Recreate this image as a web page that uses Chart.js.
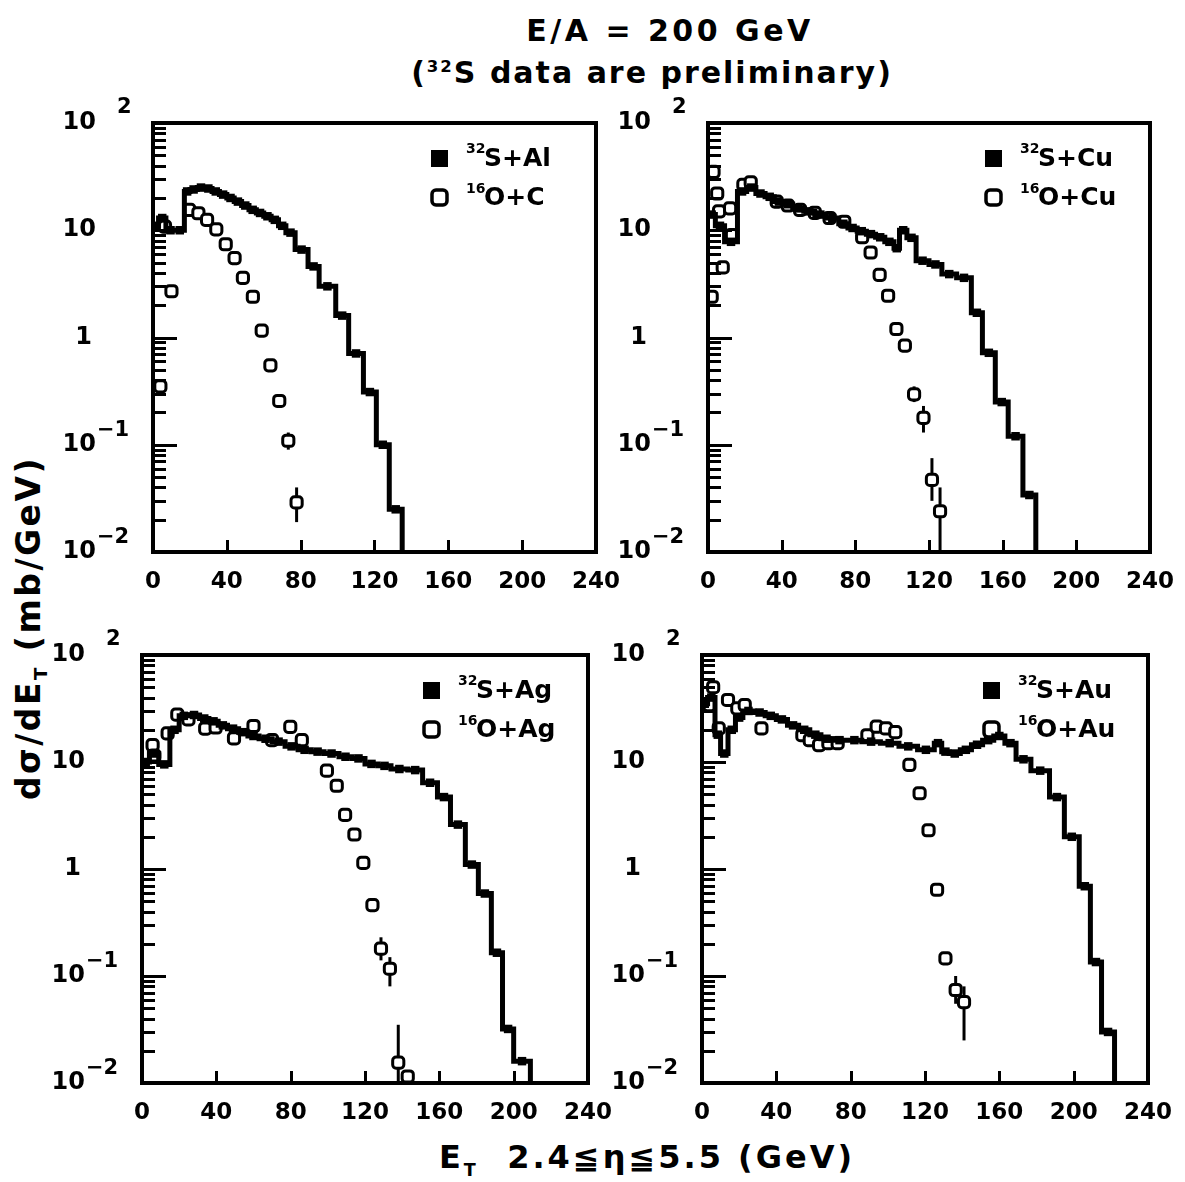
<!DOCTYPE html>
<html>
<head>
<meta charset="utf-8">
<script src="https://cdn.jsdelivr.net/npm/chart.js@4"></script>
<style>
  body { margin: 0; background: #fff; }
  #page { position: relative; width: 1185px; height: 1182px; overflow: hidden; background: #fff;
          font-family: "DejaVu Sans", sans-serif; font-weight: bold; color: #000; }
  #page canvas { position: absolute; }
  .t { position: absolute; white-space: nowrap; transform: translate(-50%, -50%); }
  .t sup { font-size: 55%; }
  .t sub { font-size: 55%; }
  #title1 { left: 670px; top: 30px; font-size: 30px; letter-spacing: 3.5px; }
  #title2 { left: 652px; top: 72px; font-size: 30px; letter-spacing: 2px; }
  #xtitle { left: 647px; top: 1159px; font-size: 32px; letter-spacing: 3px; }
  #ytitle { left: 30px; top: 628px; font-size: 33px; letter-spacing: 2.5px;
            transform: translate(-50%, -50%) rotate(-90deg); }
</style>
</head>
<body>
<div id="page">
  <div class="t" id="title1">E/A = 200 GeV</div>
  <div class="t" id="title2">(<sup>32</sup>S data are preliminary)</div>
  <div class="t" id="xtitle">E<sub>T</sub>&nbsp; 2.4≦η≦5.5 (GeV)</div>
  <div class="t" id="ytitle">dσ/dE<sub>T</sub> (mb/GeV)</div>
  <canvas id="c1"></canvas>
  <canvas id="c2"></canvas>
  <canvas id="c3"></canvas>
  <canvas id="c4"></canvas>
</div>
<script>
const xTicks = [0, 40, 80, 120, 160, 200, 240];
const yDecades = [-2, -1, 0, 1, 2];

// 32S+Al histogram (bin edges, values) and 16O+C points
const sAlEdges = [0, 3, 7, 12, 17, 20, 24, 28, 32, 36, 40, 44, 48, 52, 56, 60, 64, 68, 72, 77, 84, 90, 99, 106, 114, 121, 128, 135];
const sAlVals = [11, 13, 10, 10, 23, 24, 25, 24.5, 23, 21.5, 20, 18.5, 17, 15.5, 14.5, 13.5, 12.5, 11, 9.5, 6.6, 4.6, 3.0, 1.6, 0.71, 0.31, 0.1, 0.025];
const oCE = [4, 6.5, 10, 19.6, 24.6, 29.3, 34.3, 39.4, 44.2, 48.7, 54.1, 58.9, 63.6, 68.4, 73.3, 77.8];
const oCVals = [0.35, 10.8, 2.7, 15.5, 14.4, 12.5, 10.2, 7.4, 5.5, 3.6, 2.4, 1.16, 0.55, 0.256, 0.109, 0.029];
const oCErrE = [73.3, 77.8];
const oCErrLo = [0.09, 0.019];
const oCErrHi = [0.13, 0.04];

// 32S+Cu and 16O+Cu
const sCuEdges = [0, 4, 9, 16, 21, 26, 31, 36, 41, 46, 52, 58, 64, 71, 76, 81, 86, 91, 96, 101, 104, 108, 113, 120, 127, 135, 143, 149, 156, 163, 171, 178];
const sCuVals = [14, 11, 7.8, 23, 25, 22, 20.5, 18.5, 17.5, 16, 15, 14, 13, 11.5, 10.5, 9.8, 9.2, 8.6, 7.8, 6.8, 10, 8.5, 5.2, 4.8, 3.9, 3.6, 1.7, 0.72, 0.25, 0.12, 0.034];
const oCuE = [2, 3, 5, 6, 8, 12, 13, 19.2, 23.2, 37.3, 43.4, 50, 58, 66, 74, 83.7, 88.3, 93.2, 97.8, 102.3, 106.9, 111.9, 117, 121.6, 126];
const oCuVals = [2.4, 35, 22, 15, 4.5, 16, 9, 26.5, 28, 18.5, 17, 15.5, 14.5, 13, 12, 8.6, 6.2, 3.84, 2.45, 1.2, 0.84, 0.295, 0.178, 0.047, 0.024];
const oCuErrE = [111.9, 117, 121.6, 126];
const oCuErrLo = [0.25, 0.13, 0.03, 0.009];
const oCuErrHi = [0.35, 0.23, 0.075, 0.04];

// 32S+Ag and 16O+Ag
const sAgEdges = [0, 4, 9, 15, 20, 25, 31, 36, 41, 46, 52, 57, 63, 70, 77, 84, 91, 98, 106, 113, 120, 127, 134, 143, 151, 159, 166, 174, 181, 188, 194, 200, 209];
const sAgVals = [10, 12, 9.5, 20, 27, 27.5, 25.5, 24, 22, 20.5, 19, 17.5, 16.5, 15.5, 14, 13, 12.5, 12, 11.2, 10.8, 9.6, 9.2, 8.6, 8.4, 6.4, 4.7, 2.6, 1.1, 0.59, 0.165, 0.032, 0.016];
const oAgE = [5.7, 6.6, 13.8, 19, 25, 34, 39.6, 49.5, 60, 70, 79.8, 86, 99.5, 104.8, 109.3, 114.3, 119.1, 124, 128.6, 133.4, 137.9, 143];
const oAgVals = [14.4, 11.5, 18.5, 27.7, 25, 20.5, 21, 16.6, 21.7, 16, 21.3, 16, 8.3, 6.0, 3.2, 2.1, 1.14, 0.46, 0.18, 0.117, 0.0155, 0.0115];
const oAgErrE = [128.6, 133.4, 137.9];
const oAgErrLo = [0.14, 0.08, 0.009];
const oAgErrHi = [0.23, 0.15, 0.035];

// 32S+Au and 16O+Au
const sAuEdges = [0, 3, 7, 10, 14, 18, 22, 28, 34, 40, 46, 52, 58, 64, 70, 78, 86, 96, 106, 116, 125, 129, 133, 139, 145, 151, 157, 163, 169, 177, 187, 195, 203, 209, 215, 222];
const sAuVals = [35, 40, 18, 12, 20, 26, 30, 29, 27, 25, 22, 20, 18, 16.5, 16, 16, 15.5, 15, 14, 13, 15, 12.5, 12, 13, 14.5, 16, 17.5, 15, 10.6, 8.3, 4.7, 2.0, 0.69, 0.135, 0.03];
const oAuE = [4, 6, 9, 14, 19, 23, 32, 54, 58, 63, 68, 73, 89, 94, 99, 104, 111.6, 117.1, 121.9, 126.5, 131, 136.5, 141];
const oAuVals = [34, 50, 20.6, 38, 31.7, 34, 20.6, 17.8, 16, 14.4, 15, 15, 17.8, 21.4, 20.6, 19, 9.4, 5.1, 2.3, 0.64, 0.146, 0.074, 0.057];
const oAuErrE = [136.5, 141];
const oAuErrLo = [0.055, 0.025];
const oAuErrHi = [0.1, 0.08];

const FONT = '"DejaVu Sans", sans-serif';

const panels = [
  { id: 'c1', box: [153, 123, 598, 552], sEdges: sAlEdges, sVals: sAlVals, oE: oCE, oVals: oCVals,
    errE: oCErrE, errLo: oCErrLo, errHi: oCErrHi, sName: 'S+Al', oName: 'O+C' },
  { id: 'c2', box: [708, 123, 1152, 552], sEdges: sCuEdges, sVals: sCuVals, oE: oCuE, oVals: oCuVals,
    errE: oCuErrE, errLo: oCuErrLo, errHi: oCuErrHi, sName: 'S+Cu', oName: 'O+Cu' },
  { id: 'c3', box: [142, 655, 590, 1083], sEdges: sAgEdges, sVals: sAgVals, oE: oAgE, oVals: oAgVals,
    errE: oAgErrE, errLo: oAgErrLo, errHi: oAgErrHi, sName: 'S+Ag', oName: 'O+Ag' },
  { id: 'c4', box: [702, 655, 1150, 1083], sEdges: sAuEdges, sVals: sAuVals, oE: oAuE, oVals: oAuVals,
    errE: oAuErrE, errLo: oAuErrLo, errHi: oAuErrHi, sName: 'S+Au', oName: 'O+Au' }
];

const PAD_L = 110, PAD_T = 45, PAD_R = 30, XAXIS_H = 50;

function roundRect(ctx, x, y, w, h, r) {
  ctx.beginPath();
  ctx.moveTo(x + r, y);
  ctx.arcTo(x + w, y, x + w, y + h, r);
  ctx.arcTo(x + w, y + h, x, y + h, r);
  ctx.arcTo(x, y + h, x, y, r);
  ctx.arcTo(x, y, x + w, y, r);
  ctx.closePath();
}

function makeDecor(p) {
  return {
    id: 'decor_' + p.id,
    beforeDatasetsDraw(chart) {
      const { ctx } = chart;
      const xs = chart.scales.x, ys = chart.scales.y;
      ctx.save();
      ctx.strokeStyle = '#000';
      ctx.lineWidth = 3;
      p.errE.forEach((e, i) => {
        const px = xs.getPixelForValue(e);
        const y1 = ys.getPixelForValue(Math.max(p.errLo[i], 0.01));
        const y2 = ys.getPixelForValue(p.errHi[i]);
        ctx.beginPath(); ctx.moveTo(px, y1); ctx.lineTo(px, y2); ctx.stroke();
      });
      ctx.restore();
    },
    afterDraw(chart) {
      const { ctx, chartArea: a } = chart;
      const xs = chart.scales.x, ys = chart.scales.y;
      ctx.save();
      ctx.strokeStyle = '#000';
      ctx.fillStyle = '#000';
      // log minor / major ticks on the left axis
      ctx.lineWidth = 3;
      for (let e = -2; e < 2; e++) {
        for (let m = 1; m < 10; m++) {
          const py = Math.round(ys.getPixelForValue(m * Math.pow(10, e))) + 0.5;
          const len = m === 1 ? 24 : 13;
          ctx.beginPath(); ctx.moveTo(a.left, py); ctx.lineTo(a.left + len, py); ctx.stroke();
        }
      }
      // x ticks
      xTicks.forEach(v => {
        if (v <= 0 || v >= 240) return;
        const px = Math.round(xs.getPixelForValue(v)) + 0.5;
        ctx.beginPath(); ctx.moveTo(px, a.bottom); ctx.lineTo(px, a.bottom - 12); ctx.stroke();
      });
      // frame
      ctx.lineWidth = 4;
      ctx.strokeRect(a.left, a.top, a.right - a.left, a.bottom - a.top);

      // y labels with exponents
      const mx = a.left - 57;
      ctx.textBaseline = 'middle';
      yDecades.forEach(e => {
        const py = ys.getPixelForValue(Math.pow(10, e));
        ctx.font = 'bold 24px ' + FONT;
        if (e === 0) {
          ctx.textAlign = 'right';
          ctx.fillText('1', mx - 4, py);
          return;
        }
        ctx.textAlign = 'right';
        ctx.fillText('10', mx, py);
        ctx.textAlign = 'left';
        ctx.font = 'bold 21px ' + FONT;
        if (e === 2) ctx.fillText('2', mx + 21, py - 15);
        else if (e < 0) ctx.fillText('\u2212' + (-e), mx + 1, py - 14);
      });

      // legend
      const R = a.right, T = a.top;
      ctx.fillRect(R - 165, T + 27, 17, 17);
      ctx.lineWidth = 3.5;
      roundRect(ctx, R - 164, T + 67, 15, 15, 4);
      ctx.stroke();
      ctx.textAlign = 'left';
      ctx.font = 'bold 14px ' + FONT;
      ctx.fillText('32', R - 130, T + 26);
      ctx.fillText('16', R - 130, T + 66);
      ctx.font = 'bold 25px ' + FONT;
      ctx.fillText(p.sName, R - 112, T + 36);
      ctx.fillText(p.oName, R - 112, T + 75);
      ctx.restore();
    }
  };
}

panels.forEach(p => {
  const [L, T, R, B] = p.box;
  const canvas = document.getElementById(p.id);
  const w = R - L + PAD_L + PAD_R, h = B - T + PAD_T + XAXIS_H;
  canvas.width = w; canvas.height = h;
  canvas.style.left = (L - PAD_L) + 'px';
  canvas.style.top = (T - PAD_T) + 'px';
  canvas.style.width = w + 'px';
  canvas.style.height = h + 'px';

  const last = p.sEdges.length - 1;
  // each bin value is held from its left edge to the next edge, then drops at the last edge
  const histo = p.sVals.map((v, i) => ({ x: p.sEdges[i], y: v }));
  histo.push({ x: p.sEdges[last], y: 0.001 });
  const sMarks = p.sVals.map((v, i) => ({ x: (p.sEdges[i] + p.sEdges[i + 1]) / 2, y: v }));
  const oPts = p.oE.map((e, i) => ({ x: e, y: p.oVals[i] }));

  new Chart(canvas, {
    type: 'line',
    data: {
      datasets: [
        { label: '32S ' + p.sName, data: histo, stepped: 'before', borderColor: '#000', borderWidth: 5,
          pointRadius: 0, fill: false },
        { label: '32S ' + p.sName + ' bins', data: sMarks, showLine: false, pointStyle: 'rect',
          pointRadius: 6, backgroundColor: '#000', borderColor: '#000', borderWidth: 0 },
        { label: '16O ' + p.oName, data: oPts, showLine: false, pointStyle: 'rectRounded',
          pointRadius: 6.5, backgroundColor: '#fff', borderColor: '#000', borderWidth: 3 }
      ]
    },
    options: {
      responsive: false,
      animation: false,
      devicePixelRatio: 1,
      layout: { padding: { left: PAD_L, top: PAD_T, right: PAD_R, bottom: 0 } },
      plugins: { legend: { display: false }, tooltip: { enabled: false } },
      scales: {
        x: {
          type: 'linear', min: 0, max: 240,
          afterFit: s => { s.height = XAXIS_H; },
          afterBuildTicks: s => { s.ticks = xTicks.map(v => ({ value: v })); },
          grid: { display: false }, border: { display: false },
          ticks: { color: '#000', font: { family: FONT, size: 23, weight: 'bold' }, padding: 8,
                   maxRotation: 0, autoSkip: false }
        },
        y: {
          type: 'logarithmic', min: 0.01, max: 100,
          afterFit: s => { s.width = 0; },
          grid: { display: false }, border: { display: false },
          ticks: { display: false }
        }
      }
    },
    plugins: [makeDecor(p)]
  });
});
</script>
</body>
</html>
